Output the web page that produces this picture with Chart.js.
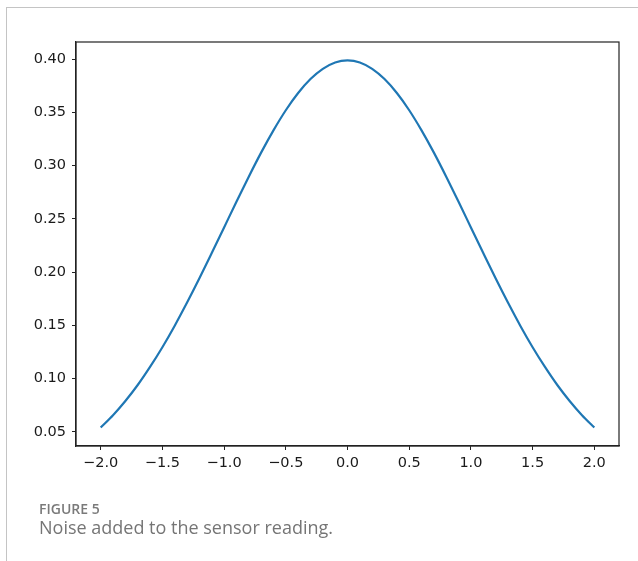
<!DOCTYPE html>
<html>
<head>
<meta charset="utf-8">
<script src="https://cdn.jsdelivr.net/npm/chart.js@4.4.1/dist/chart.umd.min.js"></script>
<style>
  html, body { margin: 0; padding: 0; background: #fff; }
  #wrap { position: relative; width: 638px; height: 561px; overflow: hidden; }
  #frameTop { position: absolute; left: 6px; top: 7px; width: 632px; height: 1px; background: #c4c4c4; }
  #frameLeft { position: absolute; left: 6px; top: 7px; width: 1px; height: 554px; background: #c4c4c4; }
  canvas { position: absolute; left: 0; top: 0; }
  .cap1 { position: absolute; left: 39px; top: 499px; font: 600 14px "Open Sans", sans-serif; color: #7a7a7a; }
  .cap2 { position: absolute; left: 39px; top: 515px; font: 400 18px "Open Sans", sans-serif; color: #757575; }
</style>
</head>
<body>
<div id="wrap">
  <div id="frameTop"></div>
  <div id="frameLeft"></div>
  <canvas id="chart" width="638" height="561"></canvas>
  <div class="cap1">FIGURE 5</div>
  <div class="cap2">Noise added to the sensor reading.</div>
</div>
<script>
// valeurs
const xValues = [-2.0, -1.9, -1.8, -1.7, -1.6, -1.5, -1.4, -1.3, -1.2, -1.1, -1.0,
  -0.9, -0.8, -0.7, -0.6, -0.5, -0.4, -0.3, -0.2, -0.1, 0.0,
  0.1, 0.2, 0.3, 0.4, 0.5, 0.6, 0.7, 0.8, 0.9, 1.0,
  1.1, 1.2, 1.3, 1.4, 1.5, 1.6, 1.7, 1.8, 1.9, 2.0];
const yValues = [0.054, 0.0656, 0.079, 0.094, 0.111, 0.1295, 0.1497, 0.1714, 0.1942, 0.2179, 0.242,
  0.2661, 0.2897, 0.3123, 0.3332, 0.3521, 0.3683, 0.3814, 0.391, 0.397, 0.3989,
  0.397, 0.391, 0.3814, 0.3683, 0.3521, 0.3332, 0.3123, 0.2897, 0.2661, 0.242,
  0.2179, 0.1942, 0.1714, 0.1497, 0.1295, 0.111, 0.094, 0.079, 0.0656, 0.054];
const xTicks = [-2.0, -1.5, -1.0, -0.5, 0.0, 0.5, 1.0, 1.5, 2.0];
const yTicks = [0.05, 0.10, 0.15, 0.20, 0.25, 0.30, 0.35, 0.40];

const points = xValues.map((x, i) => ({ x: x, y: yValues[i] }));

// cadre noir autour de la zone de tracé (style matplotlib)
const boxPlugin = {
  id: "boxPlugin",
  afterDraw: (chart) => {
    const a = chart.chartArea;
    const ctx = chart.ctx;
    ctx.save();
    ctx.strokeStyle = "#222";
    ctx.lineWidth = 1.2;
    ctx.strokeRect(a.left, a.top, a.right - a.left, a.bottom - a.top);
    ctx.restore();
  },
};

const fmt = (v) => v.toFixed(1).replace("-", "\u2212");

new Chart(document.getElementById("chart").getContext("2d"), {
  type: "line",
  data: {
    datasets: [{
      data: points,
      borderColor: "#1f77b4",
      borderWidth: 2.2,
      pointRadius: 0,
      cubicInterpolationMode: "monotone",
      fill: false,
    }],
  },
  options: {
    responsive: false,
    animation: false,
    layout: { padding: { left: 0, right: 19, top: 42, bottom: 75 } },
    plugins: { legend: { display: false }, tooltip: { enabled: false } },
    scales: {
      x: {
        type: "linear",
        min: -2.2,
        max: 2.2,
        afterBuildTicks: (s) => { s.ticks = xTicks.map(v => ({ value: v })); },
        afterFit: (s) => { s.height = 40; },
        ticks: {
          color: "#1a1a1a",
          font: { family: "DejaVu Sans", size: 14.5 },
          padding: 5,
          maxRotation: 0,
          autoSkip: false,
          callback: (v) => fmt(v),
        },
        grid: { drawOnChartArea: false, tickLength: 4, color: "#222" },
        border: { color: "#222", width: 1.2 },
      },
      y: {
        min: 0.0367,
        max: 0.4162,
        afterBuildTicks: (s) => { s.ticks = yTicks.map(v => ({ value: v })); },
        afterFit: (s) => { s.width = 76; },
        ticks: {
          color: "#1a1a1a",
          font: { family: "DejaVu Sans", size: 14.5 },
          padding: 6,
          autoSkip: false,
          callback: (v) => v.toFixed(2),
        },
        grid: { drawOnChartArea: false, tickLength: 4, color: "#222" },
        border: { color: "#222", width: 1.2 },
      },
    },
  },
  plugins: [boxPlugin],
});
</script>
</body>
</html>
